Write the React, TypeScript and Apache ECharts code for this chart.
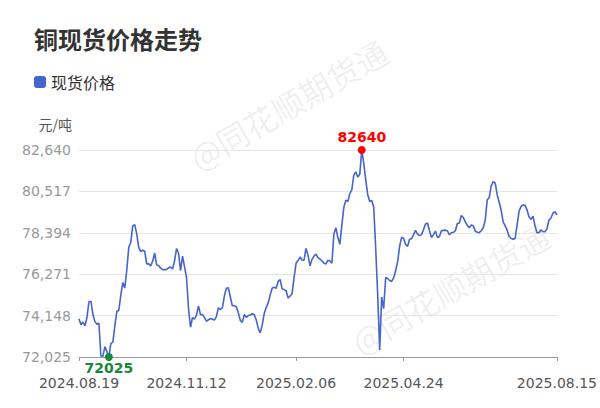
import React, { useEffect, useRef } from "react";
import * as echarts from "echarts";

const TITLE = "铜现货价格走势";
const SERIES_NAME = "现货价格";
const UNIT = "元/吨";
const WATERMARK = "@同花顺期货通";

const FIRST_DAY = "2024-08-19";
const LAST_DAY = "2025-08-15";
const HOLIDAYS = [
  "2024-09-16", "2024-09-17",
  "2024-10-01", "2024-10-02", "2024-10-03", "2024-10-04", "2024-10-07",
  "2025-01-01",
  "2025-01-28", "2025-01-29", "2025-01-30", "2025-01-31", "2025-02-03", "2025-02-04",
  "2025-04-04",
  "2025-05-01", "2025-05-02", "2025-05-05",
  "2025-06-02",
];

const TICK_LABELS = ["2024.08.19", "2024.11.12", "2025.02.06", "2025.04.24", "2025.08.15"];

const Y_MIN = 72025;
const Y_MAX = 82640;
const Y_STEP = 2123;

// 2024.08.19 - 2024.12.31
const prices2024 = [
  73980, 73680, 73820, 73620, 74050, 74860, 74880, 74200, 73840, 73700,
  73760, 72080, 72060, 72560, 72300, 72025, 72720, 72790, 73620, 74360,
  74420, 75200, 75850, 75560, 76500, 77650, 77900, 78750, 78810, 78330,
  77650, 77430, 77500, 77450, 76800, 76800, 76700, 76950, 77350, 76740,
  76720, 76580, 76500, 76500, 76520, 76600, 76640, 76540, 76970, 77590,
  77330, 76450, 77200, 76650, 76100, 74500, 73550, 74050, 73960, 74180,
  74650, 74200, 74200, 74050, 73860, 73930, 74000, 73960, 73920, 74100,
  74550, 74460, 74550, 75150, 75550, 75580, 75100, 74650, 74660, 74600,
  74300, 73900, 73800, 74200, 74060, 74150, 74180, 74240, 74190, 73930,
];

// 2025.01.02 - 2025.08.15
const prices2025 = [
  73500, 73260, 73660, 74250, 74560, 74800, 75200, 75550, 75600, 75550,
  75900, 76000, 75520, 75480, 75420, 75050, 75150, 75270, 76100, 76830,
  76970, 77150, 77000, 76990, 77590, 77250, 76700, 77020, 77200, 77300,
  77120, 77050, 76950, 76840, 76800, 76990, 76950, 76830, 78350, 78650,
  78150, 77800, 78800, 79700, 80070, 80000, 80400, 80590, 81350, 81520,
  81250, 81400, 82640, 81950, 81100, 80350, 80000, 80050, 79700, 77600,
  75200, 72384, 75100, 74500, 76100, 76050, 75950, 75900, 76080, 76450,
  76900, 77700, 78160, 78120, 77800, 77700, 78050, 78100, 78300, 78520,
  78330, 78250, 78300, 78550, 78850, 78900, 78500, 78150, 78300, 78480,
  78150, 78200, 78500, 78520, 78530, 78500, 78290, 78400, 78420, 78500,
  78870, 78900, 79280, 79180, 78950, 78780, 78650, 78790, 78760, 78480,
  78420, 78400, 78500, 78650, 79050, 80080, 80200, 80800, 81015, 80950,
  80350, 79950, 79550, 78950, 78750, 78530, 78220, 78100, 78070, 78100,
  78800, 79500, 79750, 79820, 79800, 79560, 79200, 79080, 79250, 78750,
  78400, 78400, 78550, 78450, 78450, 78600, 79050, 79150, 79400, 79480,
  79306,
];

const LINE_COLOR = "#4565cc";

function tradingDays(start: string, end: string, holidays: string[]): string[] {
  const out: string[] = [];
  const d = new Date(start + "T00:00:00Z");
  const e = new Date(end + "T00:00:00Z");
  while (d.getTime() <= e.getTime()) {
    const wd = d.getUTCDay();
    const iso = d.toISOString().slice(0, 10);
    if (wd !== 0 && wd !== 6 && holidays.indexOf(iso) < 0) out.push(iso.replace(/-/g, "."));
    d.setUTCDate(d.getUTCDate() + 1);
  }
  return out;
}

export default function App() {
  const ref = useRef<HTMLDivElement>(null);

  useEffect(() => {
    if (!ref.current) return;
    document.body.style.margin = "0";
    document.documentElement.style.margin = "0";
    const chart = echarts.init(ref.current, undefined, { renderer: "svg" });
    const dates = tradingDays(FIRST_DAY, LAST_DAY, HOLIDAYS);
    const prices = prices2024.concat(prices2025);
    const showTick = (_i: number, v: string) => TICK_LABELS.indexOf(v) >= 0;

    chart.setOption({
      animation: false,
      backgroundColor: "#ffffff",
      title: {
        text: TITLE,
        left: 34,
        top: 26,
        padding: 0,
        textStyle: { fontSize: 24, fontWeight: "bold", color: "#333333", fontFamily: "Noto Sans CJK SC" },
      },
      legend: {
        data: [SERIES_NAME],
        left: 34,
        top: 74,
        padding: 0,
        icon: "roundRect",
        itemWidth: 12,
        itemHeight: 12,
        textStyle: { fontSize: 16, color: "#333333", fontFamily: "Noto Sans CJK SC" },
      },
      tooltip: { trigger: "axis" },
      grid: { left: 79, right: 42, top: 150, bottom: 51 },
      xAxis: {
        type: "category",
        data: dates,
        boundaryGap: false,
        axisLine: { lineStyle: { color: "#999999" } },
        axisTick: { interval: showTick, length: 4, lineStyle: { color: "#999999" } },
        axisLabel: { interval: showTick, color: "#555555", fontSize: 14, margin: 19, fontFamily: "DejaVu Sans" },
        splitLine: { show: false },
      },
      yAxis: {
        type: "value",
        min: Y_MIN,
        max: Y_MAX,
        interval: Y_STEP,
        name: UNIT,
        nameLocation: "end",
        nameGap: 26,
        nameTextStyle: {
          align: "right",
          verticalAlign: "middle",
          padding: [0, 7, 0, 0],
          color: "#555555",
          fontSize: 14,
          fontFamily: "Noto Sans CJK SC",
        },
        axisLine: { show: false },
        axisTick: { show: false },
        axisLabel: {
          color: "#999999",
          fontSize: 14,
          margin: 8,
          fontFamily: "DejaVu Sans",
          formatter: (v: number) => v.toLocaleString("en-US"),
        },
        splitLine: { lineStyle: { color: "#e6e6e6" } },
      },
      series: [
        {
          type: "line",
          name: SERIES_NAME,
          data: prices,
          symbol: "none",
          z: 3,
          lineStyle: { color: LINE_COLOR, width: 1.6 },
          itemStyle: { color: LINE_COLOR },
          markPoint: {
            symbol: "circle",
            symbolSize: 8,
            data: [
              {
                type: "max",
                name: "最高",
                itemStyle: { color: "#ff0000" },
                label: {
                  show: true,
                  position: "top",
                  distance: 2,
                  formatter: "{c}",
                  color: "#ff0000",
                  fontWeight: "bold",
                  fontSize: 14,
                  fontFamily: "DejaVu Sans",
                },
              },
              {
                type: "min",
                name: "最低",
                itemStyle: { color: "#148a34" },
                label: {
                  show: true,
                  position: "bottom",
                  distance: 0,
                  formatter: "{c}",
                  color: "#148a34",
                  fontWeight: "bold",
                  fontSize: 14,
                  fontFamily: "DejaVu Sans",
                },
              },
            ],
          },
        },
      ],
      graphic: [
        {
          type: "text",
          x: 288,
          y: 104,
          rotation: Math.PI / 6,
          z: 0,
          silent: true,
          style: {
            text: WATERMARK,
            fontSize: 32,
            fontFamily: "Noto Sans CJK SC",
            fill: "rgba(0,0,0,0.08)",
            align: "center",
            verticalAlign: "middle",
          },
        },
        {
          type: "text",
          x: 450,
          y: 288,
          rotation: Math.PI / 6,
          z: 0,
          silent: true,
          style: {
            text: WATERMARK,
            fontSize: 32,
            fontFamily: "Noto Sans CJK SC",
            fill: "rgba(0,0,0,0.08)",
            align: "center",
            verticalAlign: "middle",
          },
        },
      ],
    });

    return () => chart.dispose();
  }, []);

  return <div ref={ref} style={{ width: 600, height: 408, background: "#fff" }} />;
}
